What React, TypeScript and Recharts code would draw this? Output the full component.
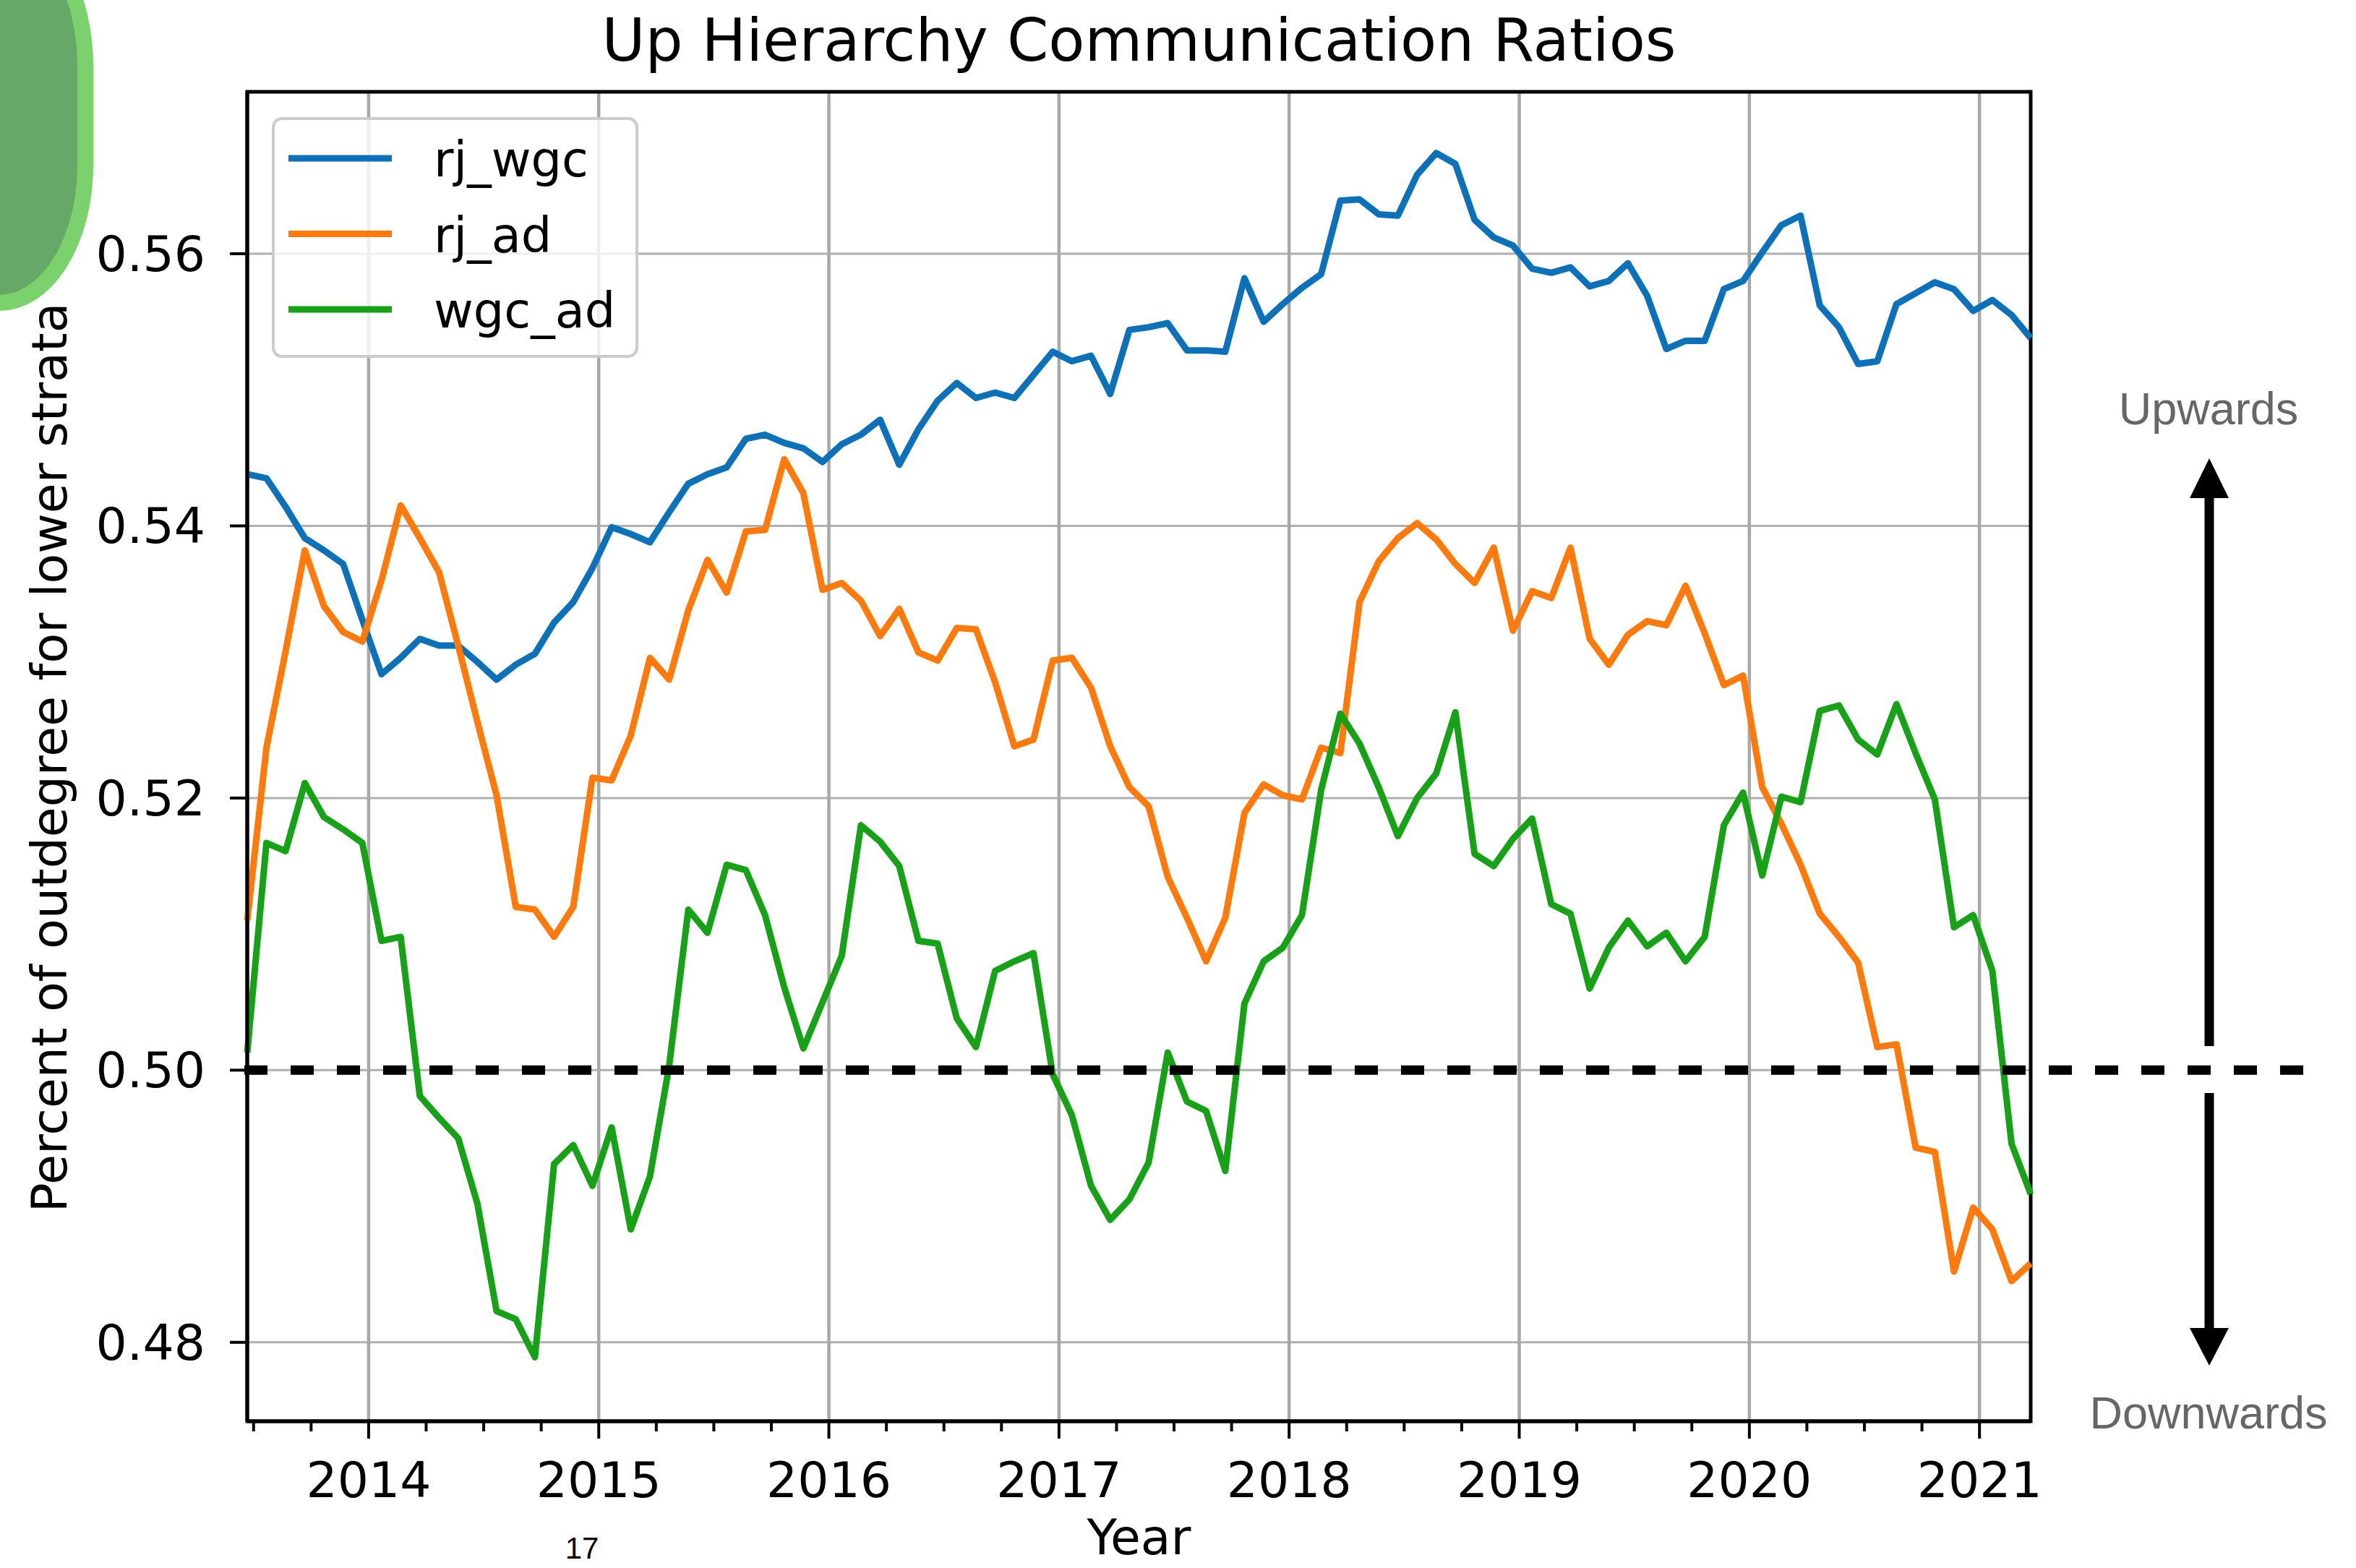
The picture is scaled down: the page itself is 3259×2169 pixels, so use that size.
import { LineChart, Line, XAxis, YAxis, CartesianGrid, Legend, ReferenceLine, ReferenceArea } from 'recharts'

// monthly points, Jun 2013 .. Mar 2021
const months = Array.from({ length: 94 }, (_, i) => 2013 + (5.67 + i) / 12)

const rjWgc = [
  0.5438, 0.5435, 0.5414, 0.5391, 0.5382, 0.5372, 0.5331, 0.5291, 0.5303, 0.5317,
  0.5312, 0.5312, 0.53, 0.5287, 0.5298, 0.5306, 0.5329, 0.5344, 0.5369, 0.5399,
  0.5394, 0.5388, 0.541, 0.5431, 0.5438, 0.5443, 0.5464, 0.5467, 0.5461, 0.5457,
  0.5447, 0.546, 0.5467, 0.5478, 0.5445, 0.5471, 0.5492, 0.5505, 0.5494, 0.5498,
  0.5494, 0.5511, 0.5528, 0.5521, 0.5525, 0.5497, 0.5544, 0.5546, 0.5549, 0.5529,
  0.5529, 0.5528, 0.5582, 0.555, 0.5563, 0.5575, 0.5585, 0.5639, 0.564, 0.5629,
  0.5628, 0.5658, 0.5674, 0.5666, 0.5625, 0.5612, 0.5606, 0.5589, 0.5586, 0.559,
  0.5576, 0.558, 0.5593, 0.5569, 0.553, 0.5536, 0.5536, 0.5574, 0.558, 0.5601,
  0.5621, 0.5628, 0.5562, 0.5546, 0.5519, 0.5521, 0.5563, 0.5571, 0.5579, 0.5574,
  0.5558, 0.5566, 0.5555, 0.5538,
]

const rjAd = [
  0.511, 0.5237, 0.5308, 0.5382, 0.5341, 0.5322, 0.5315, 0.536, 0.5415, 0.5391,
  0.5366, 0.5312, 0.5256, 0.5202, 0.512, 0.5118, 0.5098, 0.512, 0.5215, 0.5213,
  0.5246, 0.5303, 0.5287, 0.5338, 0.5375, 0.5351, 0.5396, 0.5397, 0.5449, 0.5424,
  0.5353, 0.5358, 0.5345, 0.5319, 0.5339, 0.5307, 0.5301, 0.5325, 0.5324, 0.5285,
  0.5238, 0.5243, 0.5301, 0.5303, 0.5281, 0.5238, 0.5208, 0.5194, 0.5142, 0.5112,
  0.508, 0.5112, 0.5189, 0.521, 0.5202, 0.5199, 0.5237, 0.5233, 0.5344, 0.5374,
  0.5391, 0.5402, 0.539, 0.5372, 0.5358, 0.5384, 0.5323, 0.5352, 0.5347, 0.5384,
  0.5317, 0.5298, 0.532, 0.533, 0.5327, 0.5356, 0.5321, 0.5283, 0.529, 0.5208,
  0.5181, 0.5151, 0.5115, 0.5098, 0.5079, 0.5017, 0.5019, 0.4943, 0.494, 0.4852,
  0.4899, 0.4883, 0.4845, 0.4858,
]

const wgcAd = [
  0.5013, 0.5167, 0.5161, 0.5211, 0.5186, 0.5177, 0.5167, 0.5095, 0.5098, 0.4981,
  0.4965, 0.495, 0.4902, 0.4823, 0.4817, 0.4789, 0.4931, 0.4945, 0.4915, 0.4958,
  0.4883, 0.4922, 0.5003, 0.5118, 0.5101, 0.5151, 0.5147, 0.5114, 0.5061, 0.5016,
  0.505, 0.5084, 0.518, 0.5168, 0.515, 0.5095, 0.5093, 0.5038, 0.5017, 0.5073,
  0.508, 0.5086, 0.4997, 0.4967, 0.4915, 0.489, 0.4905, 0.4932, 0.5013, 0.4977,
  0.497, 0.4926, 0.5049, 0.508, 0.509, 0.5114, 0.5206, 0.5262, 0.524, 0.5208,
  0.5172, 0.52, 0.5218, 0.5263, 0.5159, 0.515, 0.517, 0.5185, 0.5122, 0.5115,
  0.506, 0.509, 0.511, 0.5091, 0.5101, 0.508, 0.5098, 0.518, 0.5204, 0.5143,
  0.5201, 0.5197, 0.5264, 0.5268, 0.5243, 0.5232, 0.5269, 0.5233, 0.5199, 0.5105,
  0.5114, 0.5073, 0.4946, 0.4909,
]

const seriesOrder = ['rj_wgc', 'rj_ad', 'wgc_ad']
const yearTicks = [2014, 2015, 2016, 2017, 2018, 2019, 2020, 2021]
const yTicks = [0.48, 0.5, 0.52, 0.54, 0.56]

const xDomain = [months[0], months[months.length - 1]]
const yDomain = [0.4742, 0.5719]

// quarterly minor ticks + yearly major ticks
const xTicks = [2013, ...yearTicks]
  .flatMap((yr) => [yr, yr + 0.25, yr + 0.5, yr + 0.75])
  .filter((v) => v >= xDomain[0] && v <= xDomain[1])

const data = months.map((t, i) => ({ t, rj_wgc: rjWgc[i], rj_ad: rjAd[i], wgc_ad: wgcAd[i] }))

const FONT = 'DejaVu Sans, sans-serif'
const SANS = 'Liberation Sans, Arial, sans-serif'
const W = 3259
const H = 2169

function XTick({ x, y, payload }: any) {
  const major = Number.isInteger(payload.value)
  return (
    <g>
      <line x1={x} x2={x} y1={y} y2={y + (major ? 24 : 14)} stroke="#000" strokeWidth={4} />
      {major && (
        <text x={x} y={y + 105} textAnchor="middle" fontSize={68} fontFamily={FONT} fill="#000">
          {payload.value}
        </text>
      )}
    </g>
  )
}

function YTick({ x, y, payload }: any) {
  return (
    <g>
      <line x1={x - 24} x2={x} y1={y} y2={y} stroke="#000" strokeWidth={4} />
      <text x={x - 58} y={y + 24} textAnchor="end" fontSize={68} fontFamily={FONT} fill="#000">
        {Number(payload.value).toFixed(2)}
      </text>
    </g>
  )
}

function LegendBox({ payload }: any) {
  const items = [...(payload || [])].sort(
    (a: any, b: any) => seriesOrder.indexOf(a.value) - seriesOrder.indexOf(b.value)
  )
  return (
    <div
      style={{
        width: 507,
        height: 333,
        boxSizing: 'border-box',
        border: '4px solid #cccccc',
        borderRadius: 14,
        background: 'rgba(255,255,255,0.8)',
      }}
    >
      <svg width={499} height={325} style={{ display: 'block' }}>
        {items.map((p: any, i: number) => {
          const cy = 53 + i * 104.5
          return (
            <g key={p.value}>
              <line x1={19} x2={162} y1={cy} y2={cy} stroke={p.color} strokeWidth={9} />
              <text x={220} y={cy + 25} fontSize={67} fontFamily={FONT} fill="#000">
                {p.value}
              </text>
            </g>
          )
        })}
      </svg>
    </div>
  )
}

export default function App() {
  return (
    <div style={{ position: 'absolute', left: 0, top: 0, width: W, height: H, background: '#fff' }}>
      <LineChart width={W} height={H} data={data} margin={{ top: 127, right: 450, bottom: 0, left: 0 }}>
        <CartesianGrid
          horizontal
          vertical={false}
          horizontalValues={yTicks}
          stroke="#b0b0b0"
          strokeWidth={3}
        />
        <CartesianGrid
          horizontal={false}
          vertical
          verticalValues={yearTicks}
          stroke="#a8a8a8"
          strokeWidth={4.5}
        />
        <XAxis
          dataKey="t"
          type="number"
          domain={xDomain}
          ticks={xTicks}
          interval={0}
          height={203}
          tickSize={0}
          tickMargin={0}
          tickLine={false}
          tick={<XTick />}
          axisLine={{ stroke: '#000', strokeWidth: 5 }}
        />
        <YAxis
          type="number"
          domain={yDomain}
          ticks={yTicks}
          interval={0}
          width={342}
          tickSize={0}
          tickMargin={0}
          tickLine={false}
          tick={<YTick />}
          axisLine={{ stroke: '#000', strokeWidth: 5 }}
        />
        <Legend
          layout="vertical"
          align="center"
          verticalAlign="middle"
          wrapperStyle={{ left: 376, top: 162, width: 507, height: 333 }}
          content={<LegendBox />}
        />
        <Line type="linear" dataKey="rj_wgc" name="rj_wgc" stroke="#0c71b8" strokeWidth={9} strokeLinejoin="round" dot={false} isAnimationActive={false} />
        <Line type="linear" dataKey="rj_ad" name="rj_ad" stroke="#ff7a0a" strokeWidth={9} strokeLinejoin="round" dot={false} isAnimationActive={false} />
        <Line type="linear" dataKey="wgc_ad" name="wgc_ad" stroke="#16a116" strokeWidth={9} strokeLinejoin="round" dot={false} isAnimationActive={false} />
        <ReferenceLine
          segment={[{ x: 2013.46, y: 0.5 }, { x: 2022.41, y: 0.5 }]}
          ifOverflow="visible"
          stroke="#000"
          strokeWidth={13}
          strokeDasharray="32 32"
        />
        {/* axes frame */}
        <ReferenceArea
          x1={xDomain[0]}
          x2={xDomain[1]}
          y1={yDomain[0]}
          y2={yDomain[1]}
          ifOverflow="visible"
          fill="none"
          fillOpacity={0}
          stroke="#000"
          strokeWidth={5}
        />
      </LineChart>

      <svg width={W} height={H} style={{ position: 'absolute', left: 0, top: 0, pointerEvents: 'none' }}>
        <text x={1575.5} y={84} textAnchor="middle" fontSize={82} fontFamily={FONT} fill="#000">
          Up Hierarchy Communication Ratios
        </text>
        <text x={1575.5} y={2150} textAnchor="middle" fontSize={68} fontFamily={FONT} fill="#000">
          Year
        </text>
        <text transform="translate(92,1048) rotate(-90)" textAnchor="middle" fontSize={68} fontFamily={FONT} fill="#000">
          Percent of outdegree for lower strata
        </text>
        <text x={805} y={2156} textAnchor="middle" fontSize={42} fontFamily={SANS} fill="#000">
          17
        </text>

        {/* direction arrows on the right */}
        <rect x={3049.5} y={686} width={13} height={761} fill="#000" />
        <polygon points="3029,689 3083,689 3056,634" fill="#000" />
        <rect x={3049.5} y={1512} width={13} height={328} fill="#000" />
        <polygon points="3029,1837 3083,1837 3056,1889" fill="#000" />
        <text x={3055} y={587} textAnchor="middle" fontSize={63} fontFamily={SANS} fill="#666">
          Upwards
        </text>
        <text x={3055} y={1976} textAnchor="middle" fontSize={63} fontFamily={SANS} fill="#666">
          Downwards
        </text>

        {/* slide decoration, top left */}
        <rect x={-120} y={-100} width={238} height={519} rx={180} ry={190} fill="#65a867" stroke="#7bd26d" strokeWidth={22} />
      </svg>
    </div>
  )
}
